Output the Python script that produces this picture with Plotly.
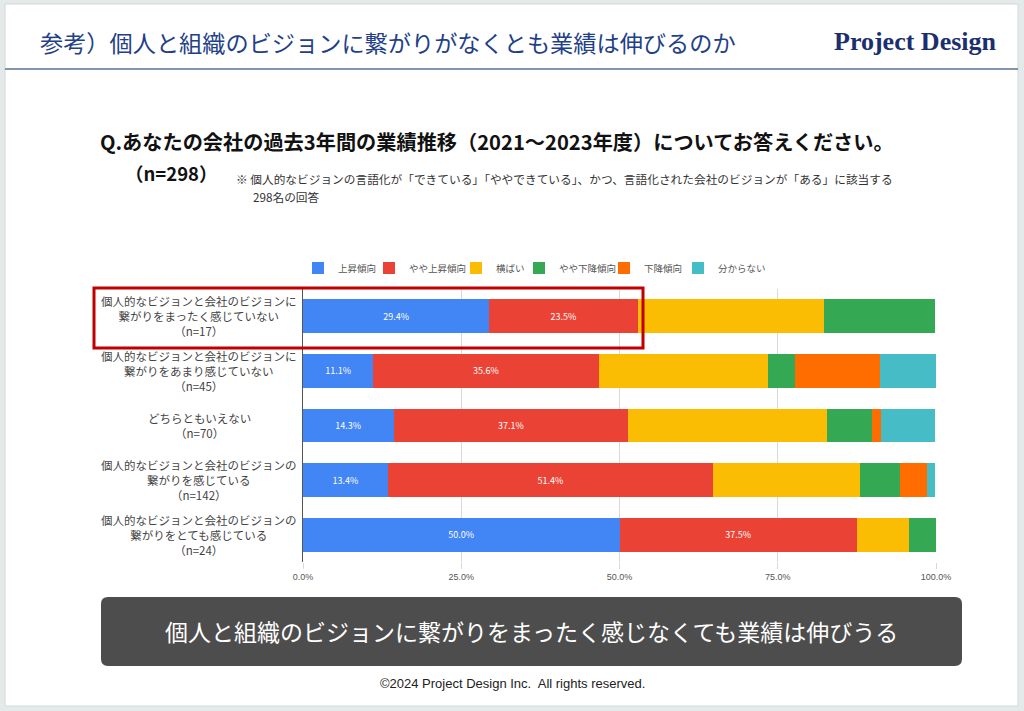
import plotly.graph_objects as go

# ---------------- data ----------------
categories = [
    "個人的なビジョンと会社のビジョンに<br>繋がりをまったく感じていない<br>（n=17）",
    "個人的なビジョンと会社のビジョンに<br>繋がりをあまり感じていない<br>（n=45）",
    "どちらともいえない<br>（n=70）",
    "個人的なビジョンと会社のビジョンの<br>繋がりを感じている<br>（n=142）",
    "個人的なビジョンと会社のビジョンの<br>繋がりをとても感じている<br>（n=24）",
]
series_names = ["上昇傾向", "やや上昇傾向", "横ばい", "やや下降傾向", "下降傾向", "分からない"]
up = [29.4, 11.1, 14.3, 13.4, 50.0]
slightly_up = [23.5, 35.6, 37.1, 51.4, 37.5]
flat = [29.4, 26.7, 31.4, 23.2, 8.3]
slightly_down = [17.6, 4.4, 7.1, 6.3, 4.2]
down = [0.0, 13.3, 1.4, 4.2, 0.0]
unknown = [0.0, 8.9, 8.6, 1.4, 0.0]
series_values = [up, slightly_up, flat, slightly_down, down, unknown]
series_colors = ["#4285F4", "#EA4335", "#FBBC04", "#34A853", "#FF6D01", "#46BDC6"]
show_labels = [True, True, False, False, False, False]
tick_vals = [0, 25, 50, 75, 100]
tick_text = ["0.0%", "25.0%", "50.0%", "75.0%", "100.0%"]

W, H = 1024, 711
def px(x):
    return x / W
def py(y):
    return 1 - y / H

JP = "Noto Sans CJK JP, Noto Sans, sans-serif"

# pixel centre of each legend swatch in the layout
legend_swatch_x = [323, 394, 481, 544, 629, 703]

fig = go.Figure()
legend_ids = ["legend"] + [f"legend{i}" for i in range(2, len(series_names) + 1)]
for name, vals, col, lab, lid in zip(series_names, series_values, series_colors, show_labels, legend_ids):
    fig.add_trace(go.Bar(
        y=categories, x=vals, name=name, orientation="h",
        marker=dict(color=col, line=dict(width=0)),
        text=[f"{v:.1f}%" for v in vals] if lab else None,
        textposition="inside" if lab else "none",
        insidetextanchor="middle",
        textangle=0,
        textfont=dict(color="white", size=9, family=JP),
        hoverinfo="x+name",
        legend=lid,
    ))

legend_layouts = {}
for lid, sx in zip(legend_ids, legend_swatch_x):
    legend_layouts[lid] = dict(orientation="h", x=px(sx - 25), xanchor="left", y=py(268), yanchor="middle",
                               font=dict(size=9.5, color="#555", family=JP), bgcolor="rgba(0,0,0,0)",
                               itemwidth=30)

fig.update_layout(
    width=W, height=H,
    barmode="stack", bargap=0.38,
    margin=dict(l=0, r=0, t=0, b=0, pad=0, autoexpand=False),
    paper_bgcolor="#e4eae9",
    plot_bgcolor="rgba(0,0,0,0)",
    font=dict(family=JP, color="#444"),
    showlegend=True,
    xaxis=dict(domain=[px(303), px(936)], range=[0, 100], tickvals=tick_vals, ticktext=tick_text,
               automargin=False,
               showgrid=True, gridcolor="#d9d9d9", gridwidth=1, zeroline=False,
               ticks="outside", ticklen=6, tickcolor="#d9d9d9",
               tickfont=dict(size=9, color="#555", family="Liberation Sans Narrow, Liberation Sans, sans-serif"),
               fixedrange=True),
    yaxis=dict(domain=[py(562), py(289)], autorange="reversed", showticklabels=False,
               automargin=False,
               showgrid=False, showline=True, linecolor="#555", linewidth=1, zeroline=False,
               fixedrange=True),
    **legend_layouts,
)

shapes = []
# slide background
shapes.append(dict(type="rect", xref="paper", yref="paper", x0=px(5), x1=px(1018), y0=py(706), y1=py(4),
                   fillcolor="white", line=dict(color="#d3d8d8", width=1), layer="below"))
# header line
shapes.append(dict(type="line", xref="paper", yref="paper", x0=px(5), x1=px(1018), y0=py(69), y1=py(69),
                   line=dict(color="#8394ad", width=2)))
# highlight box
shapes.append(dict(type="rect", xref="paper", yref="paper", x0=px(94), x1=px(643), y0=py(348), y1=py(288),
                   line=dict(color="#c00000", width=3), fillcolor="rgba(0,0,0,0)"))
# rounded dark box
x0, x1, y0, y1, r = 101, 962, 597, 666, 7
path = (f"M {px(x0+r)},{py(y0)} L {px(x1-r)},{py(y0)} Q {px(x1)},{py(y0)} {px(x1)},{py(y0+r)} "
        f"L {px(x1)},{py(y1-r)} Q {px(x1)},{py(y1)} {px(x1-r)},{py(y1)} "
        f"L {px(x0+r)},{py(y1)} Q {px(x0)},{py(y1)} {px(x0)},{py(y1-r)} "
        f"L {px(x0)},{py(y0+r)} Q {px(x0)},{py(y0)} {px(x0+r)},{py(y0)} Z")
shapes.append(dict(type="path", xref="paper", yref="paper", path=path, fillcolor="#4d4d4d",
                   line=dict(width=0)))
fig.update_layout(shapes=shapes)

ann = []
# y labels
for c in categories:
    ann.append(dict(x=px(199), xref="paper", y=c, yref="y", text=c, showarrow=False,
                    xanchor="center", yanchor="middle", align="center",
                    font=dict(size=11.5, color="#444", family=JP)))
# title
ann.append(dict(x=px(38), y=py(42), xref="paper", yref="paper", xanchor="left", yanchor="middle",
                text="参考）個人と組織のビジョンに繋がりがなくとも業績は伸びるのか", showarrow=False,
                font=dict(size=23.2, color="#233f88", family=JP)))
# logo
ann.append(dict(x=px(999), y=py(41), xref="paper", yref="paper", xanchor="right", yanchor="middle",
                text="<b>Project Design</b>", showarrow=False,
                font=dict(size=26, color="#1b2f6e", family="Liberation Serif, DejaVu Serif, serif")))
# question
ann.append(dict(x=px(497), y=py(142), xref="paper", yref="paper", xanchor="center", yanchor="middle",
                text="<b>Q.あなたの会社の過去3年間の業績推移（2021～2023年度）についてお答えください。</b>",
                showarrow=False, font=dict(size=20.2, color="#111", family=JP)))
ann.append(dict(x=px(123), y=py(173), xref="paper", yref="paper", xanchor="left", yanchor="middle",
                text="<b>（n=298）</b>", showarrow=False, font=dict(size=18.5, color="#111", family=JP)))
ann.append(dict(x=px(234), y=py(179), xref="paper", yref="paper", xanchor="left", yanchor="middle",
                text="※ 個人的なビジョンの言語化が「できている」「ややできている」、かつ、言語化された会社のビジョンが「ある」に該当する",
                showarrow=False, font=dict(size=11.7, color="#333", family=JP)))
ann.append(dict(x=px(251), y=py(196), xref="paper", yref="paper", xanchor="left", yanchor="middle",
                text="298名の回答", showarrow=False, font=dict(size=11.7, color="#333", family=JP)))
# conclusion
ann.append(dict(x=px(531), y=py(631), xref="paper", yref="paper", xanchor="center", yanchor="middle",
                text="個人と組織のビジョンに繋がりをまったく感じなくても業績は伸びうる", showarrow=False,
                font=dict(size=23, color="white", family=JP)))
# copyright
ann.append(dict(x=px(512), y=py(683), xref="paper", yref="paper", xanchor="center", yanchor="middle",
                text="©2024 Project Design Inc.  All rights reserved.", showarrow=False,
                font=dict(size=13, color="#222", family="Liberation Sans Narrow, Liberation Sans, sans-serif")))
fig.update_layout(annotations=ann)

fig.write_html("out.html", config={"displayModeBar": False},
               post_script="document.body.style.margin='0px';document.body.style.overflow='hidden';")
